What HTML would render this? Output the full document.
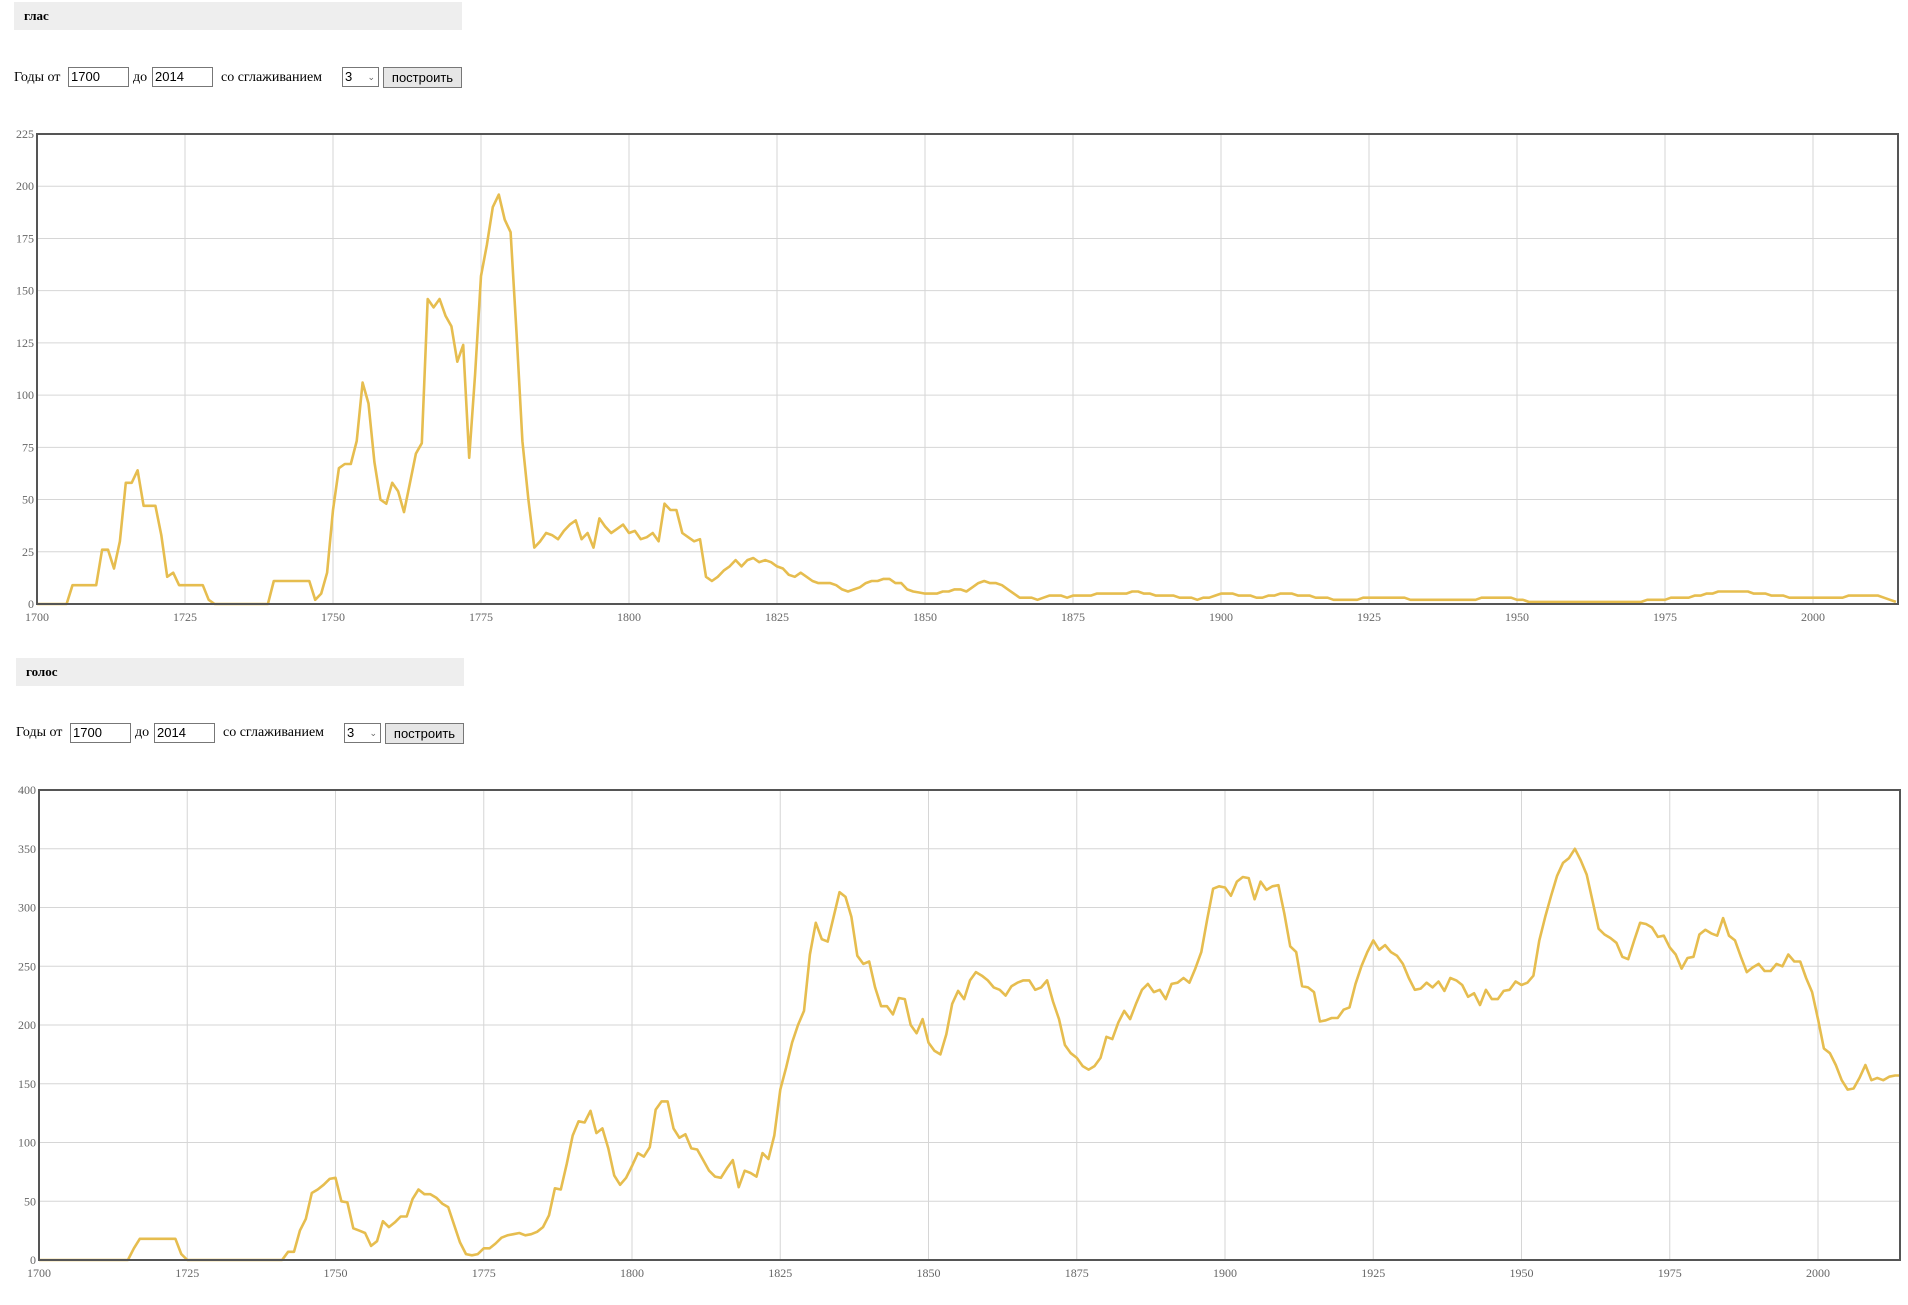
<!DOCTYPE html>
<html><head><meta charset="utf-8"><style>
body{margin:0;background:#fff;width:1908px;height:1305px;position:relative;overflow:hidden;font-family:"Liberation Serif",serif;}
.hdr{position:absolute;background:#eeeeee;height:28px;font-weight:bold;font-size:13px;line-height:28px;padding-left:10px;box-sizing:border-box}
.ctl{position:absolute;font-size:14px;height:22px;line-height:22px;}
.inp{position:absolute;border:1px solid #777;height:20px;box-sizing:border-box;font-family:"Liberation Sans",sans-serif;font-size:13px;line-height:18px;padding-left:2px;background:#fff}
.btn{position:absolute;border:1px solid #777;background:#e6e6e6;height:21px;box-sizing:border-box;font-family:"Liberation Sans",sans-serif;font-size:13px;line-height:19px;text-align:center}
svg{position:absolute;left:0;top:0}
</style></head><body>
<div class="hdr" style="left:14px;top:2px;width:448px">глас</div>
<div class="ctl" style="left:14px;top:67px">Годы от</div>
<div class="inp" style="left:68px;top:67px;width:61px">1700</div>
<div class="ctl" style="left:133px;top:67px">до</div>
<div class="inp" style="left:152px;top:67px;width:61px">2014</div>
<div class="ctl" style="left:221px;top:67px">со сглаживанием</div>
<div class="inp" style="left:342px;top:67px;width:37px">3 <span style="position:absolute;right:3px;font-size:9px;color:#666">&#8964;</span></div>
<div class="btn" style="left:383px;top:67px;width:79px">построить</div>

<div class="hdr" style="left:16px;top:658px;width:448px">голос</div>
<div class="ctl" style="left:16px;top:722px">Годы от</div>
<div class="inp" style="left:70px;top:723px;width:61px">1700</div>
<div class="ctl" style="left:135px;top:722px">до</div>
<div class="inp" style="left:154px;top:723px;width:61px">2014</div>
<div class="ctl" style="left:223px;top:722px">со сглаживанием</div>
<div class="inp" style="left:344px;top:723px;width:37px">3 <span style="position:absolute;right:3px;font-size:9px;color:#666">&#8964;</span></div>
<div class="btn" style="left:385px;top:723px;width:79px">построить</div>

<svg id="svg" width="1908" height="1305"></svg>
<script>
const years1Start = 1700;
const glasValues = [
0,0,0,0,0,0,9,9,9,9,
9,26,26,17,30,58,58,64,47,47,
47,33,13,15,9,9,9,9,9,2,
0,0,0,0,0,0,0,0,0,0,
11,11,11,11,11,11,11,2,5,15,
45,65,67,67,78,106,96,68,50,48,
58,54,44,58,72,77,146,142,146,138,
133,116,124,70,110,157,172,190,196,184,
178,130,78,50,27,30,34,33,31,35,
38,40,31,34,27,41,37,34,36,38,
34,35,31,32,34,30,48,45,45,34,
32,30,31,13,11,13,16,18,21,18,
21,22,20,21,20,18,17,14,13,15,
13,11,10,10,10,9,7,6,7,8,
10,11,11,12,12,10,10,7,6,5.5,
5,5,5,6,6,7,7,6,8,10,
11,10,10,9,7,5,3,3,3,2,
3,4,4,4,3,4,4,4,4,5,
5,5,5,5,5,6,6,5,5,4,
4,4,4,3,3,3,2,3,3,4,
5,5,5,4,4,4,3,3,4,4,
5,5,5,4,4,4,3,3,3,2,
2,2,2,2,3,3,3,3,3,3,
3,3,2,2,2,2,2,2,2,2,
2,2,2,2,3,3,3,3,3,3,
2,2,1,1,1,1,1,1,1,1,
1,1,1,1,1,1,1,1,1,1,
1,1,2,2,2,2,3,3,3,3,
4,4,5,5,6,6,6,6,6,6,
5,5,5,4,4,4,3,3,3,3,
3,3,3,3,3,3,4,4,4,4,
4,4,3,2,1];
const golosValues = [
0,0,0,0,0,0,0,0,0,0,
0,0,0,0,0,0,10,18,18,18,
18,18,18,18,5,0,0,0,0,0,
0,0,0,0,0,0,0,0,0,0,
0,0,7,7,25,35,57,60,64,69,
70,50,49,27,25,23,12,16,33,28,
32,37,37,52,60,56,56,53,48,45,
30,15,5,4,5,10,10,14,19,21,
22,23,21,22,24,28,38,61,60,82,
106,118,117,127,108,112,95,72,64,70,
80,91,88,96,128,135,135,112,104,107,
95,94,85,76,71,70,78,85,62,76,
74,71,91,86,106,145,164,185,200,212,
260,287,273,271,292,313,309,292,259,252,
254,232,216,216,209,223,222,200,193,205,
185,178,175,192,218,229,222,238,245,242,
238,232,230,225,233,236,238,238,230,232,
238,220,205,183,176,172,165,162,165,172,
190,188,202,212,205,218,230,235,228,230,
222,235,236,240,236,248,262,290,316,318,
317,310,322,326,325,307,322,315,318,319,
295,267,262,233,232,228,203,204,206,206,
213,215,235,250,262,272,264,268,262,259,
252,240,230,231,236,232,237,229,240,238,
234,224,227,217,230,222,222,229,230,237,
234,236,242,272,292,310,327,338,342,350,
340,328,305,282,277,274,270,258,256,272,
287,286,283,275,276,266,260,248,257,258,
277,281,278,276,291,276,272,258,245,249,
252,246,246,252,250,260,254,254,240,228,
205,180,176,166,153,145,146,155,166,153,
155,153,156,157,157];
const xTicks = [1700,1725,1750,1775,1800,1825,1850,1875,1900,1925,1950,1975,2000];
const yTicks1 = [0,25,50,75,100,125,150,175,200,225];
const yTicks2 = [0,50,100,150,200,250,300,350,400];

const NS='http://www.w3.org/2000/svg';
const svg=document.getElementById('svg');
function mk(tag,attrs,parent){const e=document.createElementNS(NS,tag);for(const k in attrs)e.setAttribute(k,attrs[k]);(parent||svg).appendChild(e);return e;}

function drawChart(cfg, values, yTicks, name){
  const g=mk('g',{});
  
  
  const x=yr=>cfg.left+(yr-1700)*cfg.pxYear;
  const y=v=>cfg.bottom-(v/cfg.ymax)*(cfg.bottom-cfg.top);
  xTicks.forEach(t=>{
    const l=mk('line',{x1:x(t),x2:x(t),y1:cfg.top,y2:cfg.bottom,stroke:'#d6d6d6','stroke-width':1},g);
    
    
    const tx=mk('text',{x:x(t),y:cfg.bottom+17,'text-anchor':'middle','font-size':12,fill:'#666','font-family':'Liberation Serif, serif'},g);
    tx.textContent=t;
    
    
  });
  yTicks.forEach(t=>{
    const l=mk('line',{x1:cfg.left,x2:cfg.right,y1:y(t),y2:y(t),stroke:'#d6d6d6','stroke-width':1},g);
    
    
    const tx=mk('text',{x:cfg.left-3,y:y(t)+4,'text-anchor':'end','font-size':12,fill:'#666','font-family':'Liberation Serif, serif'},g);
    tx.textContent=t;
    
    
  });
  const pts=values.map((v,i)=>x(1700+i).toFixed(1)+','+y(v).toFixed(1)).join(' ');
  const pl=mk('polyline',{points:pts,fill:'none',stroke:'#e6bd4f','stroke-width':2.6,'stroke-linejoin':'round'},g);
  
  
  const fr=mk('rect',{x:cfg.left,y:cfg.top,width:cfg.right-cfg.left,height:cfg.bottom-cfg.top,fill:'none',stroke:'#555','stroke-width':2},g);
  
  
}
drawChart({left:37,right:1898,top:134,bottom:604,ymax:225,pxYear:5.92}, glasValues, yTicks1, 'glas-chart');
drawChart({left:39,right:1900,top:790,bottom:1260,ymax:400,pxYear:5.93}, golosValues, yTicks2, 'golos-chart');
</script>
</body></html>
